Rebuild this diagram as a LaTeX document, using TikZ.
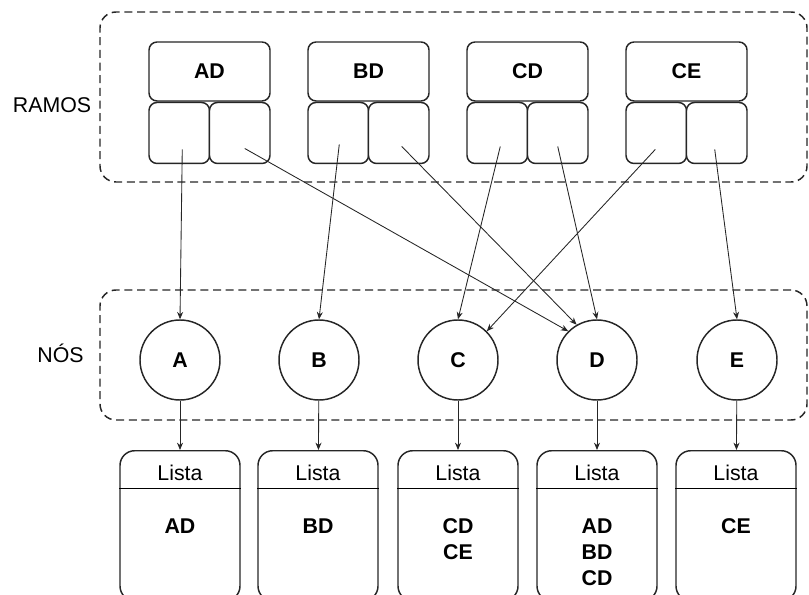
\documentclass[tikz,border=0pt]{standalone}
\usepackage{fontspec}
\setmainfont{Liberation Sans}
\usetikzlibrary{positioning,calc,arrows.meta}

\begin{document}
\begin{tikzpicture}[
    x=0.75pt, y=-0.75pt,
    grupo/.style={
        draw=black!85,
        line width=1.1pt,
        dash pattern=on 6pt off 3.5pt,
        rounded corners=12pt
    },
    ramo/.style={
        rectangle,
        draw=black!85,
        line width=1.1pt,
        rounded corners=6pt,
        fill=white,
        minimum width=90.75pt,
        minimum height=44.25pt,
        inner sep=0pt,
        font=\bfseries\fontsize{16}{19}\selectfont
    },
    cell/.style={
        rectangle,
        draw=black!85,
        line width=1.1pt,
        rounded corners=6pt,
        fill=white,
        minimum width=45.4pt,
        minimum height=45.75pt,
        inner sep=0pt
    },
    no/.style={
        circle,
        draw=black!85,
        line width=1.1pt,
        minimum size=60pt,
        inner sep=0pt,
        font=\bfseries\fontsize{16}{19}\selectfont
    },
    lista/.style={
        rectangle,
        draw=black!85,
        line width=1.1pt,
        rounded corners=11pt,
        minimum width=90pt,
        minimum height=112.5pt,
        anchor=north
    },
    titulo/.style={font=\fontsize{16}{19}\selectfont, inner sep=0pt},
    conteudo/.style={
        font=\bfseries\fontsize{16}{19.5}\selectfont,
        align=center,
        anchor=north,
        inner sep=0pt
    },
    etiq/.style={font=\fontsize{16}{19}\selectfont, anchor=base, inner sep=0pt},
    seta/.style={-{Stealth[length=5.5pt,width=4.5pt]}, line width=0.65pt, black!85}
]
    \useasboundingbox (0,0) rectangle (809,595);

    % Groups
    \node[grupo, minimum width=530.25pt, minimum height=127.5pt] (gRamos) at (453.5,97) {};
    \node[grupo, minimum width=530.25pt, minimum height=97.5pt] (gNos) at (453.5,355) {};
    \node[etiq] (lRamos) at (52,113) {RAMOS};
    \node[etiq] (lNos) at (60.5,362) {NÓS};

    % Ramos
    \node[ramo] (AD) at (209.5,71.5) {AD};
    \node[cell, anchor=north west] (ADa) at (AD.south west) {};
    \node[cell, anchor=north east] (ADb) at (AD.south east) {};
    \node[ramo] (BD) at (368.5,71.5) {BD};
    \node[cell, anchor=north west] (BDa) at (BD.south west) {};
    \node[cell, anchor=north east] (BDb) at (BD.south east) {};
    \node[ramo] (CD) at (527.5,71.5) {CD};
    \node[cell, anchor=north west] (CDa) at (CD.south west) {};
    \node[cell, anchor=north east] (CDb) at (CD.south east) {};
    \node[ramo] (CE) at (686.5,71.5) {CE};
    \node[cell, anchor=north west] (CEa) at (CE.south west) {};
    \node[cell, anchor=north east] (CEb) at (CE.south east) {};

    % Nos
    \node[no] (A) at (180,360) {A};
    \node[no] (B) at (319,360) {B};
    \node[no] (C) at (458,360) {C};
    \node[no] (D) at (597,360) {D};
    \node[no] (E) at (737,360) {E};

    % Listas
    \node[lista] (LA) at (180,450) {};
    \node[lista] (LB) at (318,450) {};
    \node[lista] (LC) at (458,450) {};
    \node[lista] (LD) at (597,450) {};
    \node[lista] (LE) at (736,450) {};
    \draw[line width=0.6pt] ($(LA.north west)+(0,38)$) -- ($(LA.north east)+(0,38)$);
    \draw[line width=0.6pt] ($(LB.north west)+(0,38)$) -- ($(LB.north east)+(0,38)$);
    \draw[line width=0.6pt] ($(LC.north west)+(0,38)$) -- ($(LC.north east)+(0,38)$);
    \draw[line width=0.6pt] ($(LD.north west)+(0,38)$) -- ($(LD.north east)+(0,38)$);
    \draw[line width=0.6pt] ($(LE.north west)+(0,38)$) -- ($(LE.north east)+(0,38)$);
    \node[titulo] (LAt) at ($(LA.north)+(0,23)$) {Lista};
    \node[titulo] (LBt) at ($(LB.north)+(0,23)$) {Lista};
    \node[titulo] (LCt) at ($(LC.north)+(0,23)$) {Lista};
    \node[titulo] (LDt) at ($(LD.north)+(0,23)$) {Lista};
    \node[titulo] (LEt) at ($(LE.north)+(0,23)$) {Lista};
    \node[conteudo] (LAc) at ($(LA.north)+(0,68.5)$) {AD};
    \node[conteudo] (LBc) at ($(LB.north)+(0,68.5)$) {BD};
    \node[conteudo] (LCc) at ($(LC.north)+(0,68.5)$) {CD\\CE};
    \node[conteudo] (LDc) at ($(LD.north)+(0,68.5)$) {AD\\BD\\CD};
    \node[conteudo] (LEc) at ($(LE.north)+(0,68.5)$) {CE};

    % Arrows
    \coordinate (pADa) at ($(ADa.center)+(3,16.5)$);
    \coordinate (pADb) at ($(ADb.center)+(5,15.5)$);
    \coordinate (pBDa) at ($(BDa.center)+(1,11.5)$);
    \coordinate (pBDb) at ($(BDb.center)+(3,13.5)$);
    \coordinate (pCDa) at ($(CDa.center)+(3,13.5)$);
    \coordinate (pCDb) at ($(CDb.center)+(0,13.5)$);
    \coordinate (pCEa) at ($(CEa.center)+(-1,16.5)$);
    \coordinate (pCEb) at ($(CEb.center)+(-2,16.5)$);
    \draw[seta] (pADa) -- (A.north);
    \draw[seta] (pADb) -- (D.135);
    \draw[seta] (pBDa) -- (B.north);
    \draw[seta] (pBDb) -- (D.120);
    \draw[seta] (pCDa) -- (C.north);
    \draw[seta] (pCDb) -- (D.north);
    \draw[seta] (pCEa) -- (C.45);
    \draw[seta] (pCEb) -- (E.north);
    \draw[seta] (A) -- (LA);
    \draw[seta] (B) -- (LB);
    \draw[seta] (C) -- (LC);
    \draw[seta] (D) -- (LD);
    \draw[seta] (E) -- (LE);
\end{tikzpicture}
\end{document}
